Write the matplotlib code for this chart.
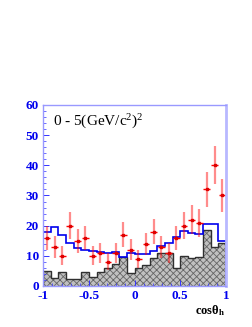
import numpy as np
import matplotlib
matplotlib.use("Agg")
from matplotlib import pyplot as plt
from matplotlib.ticker import MultipleLocator

# 24 bins in cos(theta_h) from -1 to 1
edges = np.linspace(-1, 1, 25)
centers = 0.5 * (edges[:-1] + edges[1:])

# background (hatched) histogram
bkg = [5.0, 2.5, 4.8, 2.2, 2.2, 4.8, 3.0, 4.5, 5.8, 7.2, 9.6, 4.3,
       6.0, 7.0, 9.2, 11.0, 11.1, 5.9, 10.0, 9.2, 9.6, 18.4, 13.0, 14.3]

# MC total (blue line)
mc = [17.8, 19.5, 16.8, 14.4, 12.6, 12.0, 11.6, 11.2, 11.0, 11.2, 9.6, 10.8,
      10.5, 10.6, 11.7, 13.1, 14.4, 16.1, 18.2, 17.7, 17.2, 20.7, 20.7, 15.0]

# data points
data = [16, 13, 10, 20, 15, 16, 10, 11, 8, 11, 17, 12,
        9, 14, 18, 13, 11, 16, 20, 22, 21, 32, 40, 30]
data_err = [4.0, 3.6, 3.2, 4.5, 3.9, 4.0, 3.2, 3.3, 2.8, 3.3, 4.1, 3.5,
            3.0, 3.7, 4.2, 3.6, 3.3, 4.0, 4.5, 4.7, 4.6, 5.7, 6.3, 5.5]

label = r"0 - 5(GeV/c$^2$)$^2$"

plt.rcParams["font.family"] = ["Liberation Serif", "DejaVu Serif"]
plt.rcParams["mathtext.fontset"] = "custom"
plt.rcParams["mathtext.rm"] = "Liberation Serif"
plt.rcParams["mathtext.it"] = "Liberation Serif:italic"
plt.rcParams["mathtext.bf"] = "Liberation Serif:bold"
plt.rcParams["hatch.linewidth"] = 0.6

fig = plt.figure(figsize=(2.53, 3.27), dpi=100)
ax = fig.add_axes([0.171, 0.1254, 0.722, 0.5536])

ax.stairs(bkg, edges, fill=True, facecolor="#c0c0c0", edgecolor="#656565",
          hatch="xxxxx", linewidth=0)
ax.stairs(bkg, edges, color="#303030", linewidth=1.0)
ax.stairs(mc, edges, color="#0000ee", linewidth=1.2)

hw = 0.5 * (edges[1] - edges[0])
ax.errorbar(centers, data, yerr=data_err, fmt="none",
            ecolor=(1, 0, 0, 0.45), elinewidth=1.6)
ax.errorbar(centers, data, xerr=hw * 0.9, fmt="none",
            ecolor="red", elinewidth=1.0)
ax.plot(centers, data, "s", color="#dd0000", markersize=1.6)

ax.set_xlim(-1, 1)
ax.set_ylim(0, 60)

ax.xaxis.set_major_locator(MultipleLocator(0.5))
ax.xaxis.set_minor_locator(MultipleLocator(0.1))
ax.yaxis.set_major_locator(MultipleLocator(10))
ax.yaxis.set_minor_locator(MultipleLocator(2))
ax.set_xticks([-1, -0.5, 0, 0.5, 1])
ax.set_xticklabels(["-1", "-0.5", "0", "0.5", "1"])

ax.tick_params(axis="both", which="both", direction="in", colors="#3333ff",
               labelcolor="#0000ee", top=False, right=False)
ax.tick_params(which="major", length=4, width=0.7, labelsize=9.5, pad=3)
ax.tick_params(which="minor", length=2, width=0.5)
for t in ax.get_xticklabels() + ax.get_yticklabels():
    t.set_fontweight("bold")

for side in ["left", "top", "bottom"]:
    ax.spines[side].set_color("#9999ff")
    ax.spines[side].set_linewidth(1.0)
ax.spines["right"].set_color("#b8b8ff")
ax.spines["right"].set_linewidth(2.0)

ax.text(0.055, 0.955, label, transform=ax.transAxes, fontsize=11,
        va="top", ha="left", color="black")

fig.text(0.888, 0.028, r"cos$\mathbf{\theta}_\mathbf{h}$", fontsize=9,
         fontweight="bold", ha="right", va="bottom", color="black")

fig.savefig("out.png", dpi=100)
